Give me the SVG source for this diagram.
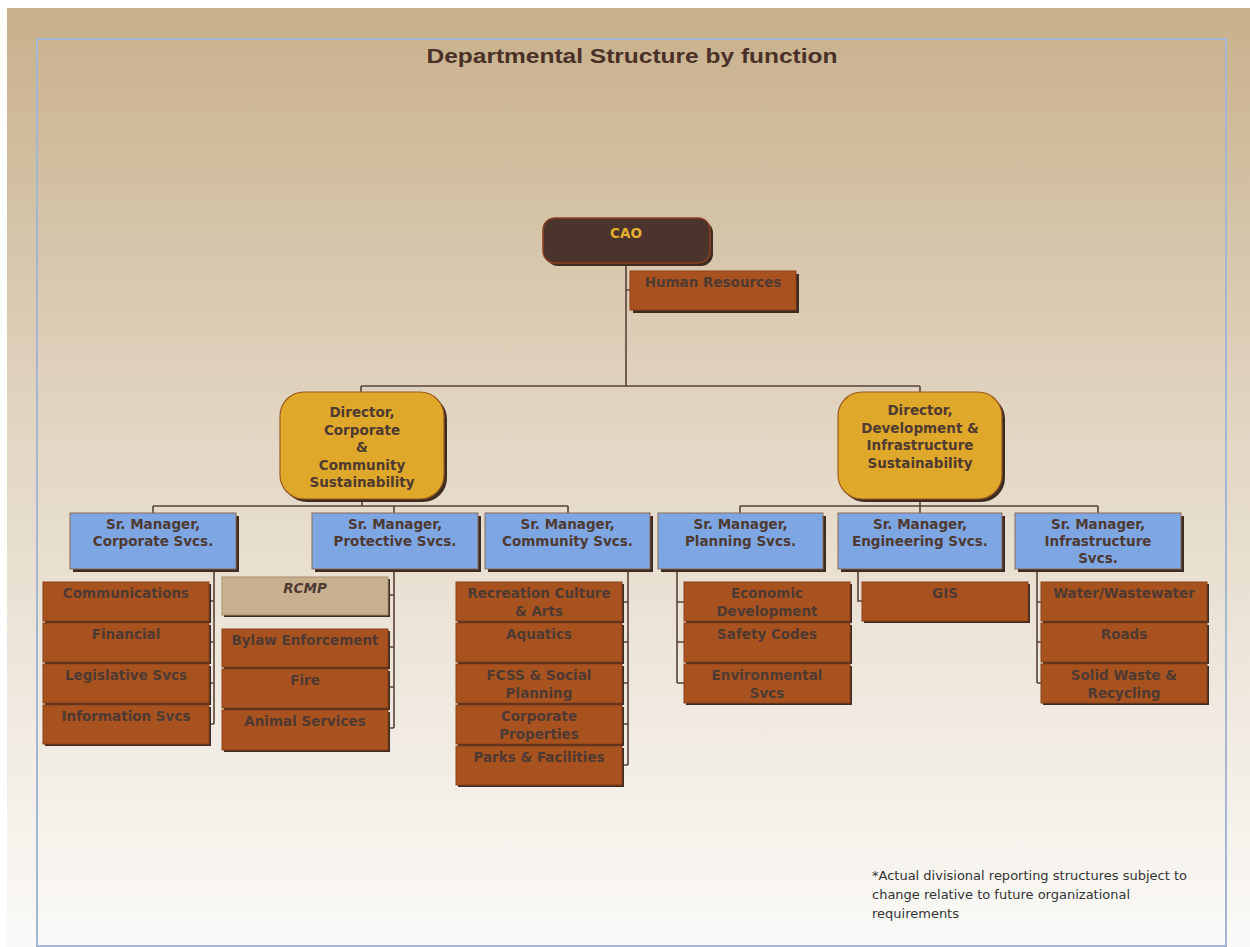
<svg xmlns="http://www.w3.org/2000/svg" width="1250" height="947" viewBox="0 0 1250 947">
<defs>
<linearGradient id="bg" x1="0" y1="0" x2="0" y2="1">
<stop offset="0" stop-color="#c8b08b"/>
<stop offset="0.45" stop-color="#e2d6c3"/>
<stop offset="1" stop-color="#fbfaf8"/>
</linearGradient>
<style>
.sh{fill:#3e2b22}
.leaf{fill:#a8521f;stroke:#8a4119;stroke-width:1}
.rcmp{fill:#c8b08e;stroke:#a89070;stroke-width:1}
.mgr{fill:#7ea6e2;stroke:#8a6a58;stroke-width:1}
.dir{fill:#e0a82a;stroke:#9a5a1e;stroke-width:1.2}
.cao{fill:#4a342c;stroke:#8a4020;stroke-width:1.5}
.t{font-family:"DejaVu Sans",Verdana,sans-serif;font-weight:bold;font-size:13.5px;fill:#4e3a32;text-anchor:middle}
.tc{font-family:"DejaVu Sans",Verdana,sans-serif;font-weight:bold;font-size:13.5px;fill:#e8b030;text-anchor:middle}
.ti{font-style:italic}
.ln{fill:none;stroke:#5a4238;stroke-width:1.6}
.note{font-family:"DejaVu Sans",Verdana,sans-serif;font-size:13px;fill:#333}
</style>
</defs>
<rect x="0" y="0" width="1250" height="947" fill="#ffffff"/>
<rect x="7" y="8" width="1243" height="939" fill="url(#bg)"/>
<rect x="37" y="39" width="1189" height="907" fill="none" stroke="#a3b6d4" stroke-width="2"/>
<text x="632" y="63" font-family="Liberation Sans,Arial,sans-serif" font-weight="bold" font-size="20" fill="#4a3028" text-anchor="middle" textLength="411" lengthAdjust="spacingAndGlyphs">Departmental Structure by function</text>

<g id="connectors">
<path class="ln" d="M626 264V386M626 290H630M361 386H920M361 386V392M920 386V392"/>
<path class="ln" d="M362 499V506M153 506H568M153 506V513M394 506V513M568 506V513"/>
<path class="ln" d="M920 499V506M740 506H1098M740 506V513M920 506V513M1098 506V513"/>
<path class="ln" d="M214 569V724M209 601H214M209 642H214M209 683H214M209 724H214"/>
<path class="ln" d="M394 569V728M388 595H394M388 647H394M388 687H394M388 728H394"/>
<path class="ln" d="M628 569V765M622 602H628M622 642H628M622 683H628M622 724H628M622 765H628"/>
<path class="ln" d="M677 569V683M677 602H684M677 642H684M677 683H684"/>
<path class="ln" d="M858 569V601H862"/>
<path class="ln" d="M1037 569V683M1037 602H1041M1037 642H1041M1037 683H1041"/>
</g>

<g id="cao"><rect class="sh" x="546" y="221" width="167" height="45" rx="12"/><rect class="cao" x="543" y="218" width="167" height="45" rx="12"/><text class="tc" x="626" y="238">CAO</text></g>
<g id="hr"><rect class="sh" x="633" y="274" width="166" height="39"/><rect class="leaf" x="630" y="271" width="166" height="39"/><text class="t" x="713" y="287">Human Resources</text></g>

<g id="dir-ccs"><rect class="sh" x="283" y="395" width="164" height="107" rx="24"/><rect class="dir" x="280" y="392" width="164" height="107" rx="24"/>
<text class="t" x="362" y="417">Director,</text><text class="t" x="362" y="434.5">Corporate</text><text class="t" x="362" y="452">&amp;</text><text class="t" x="362" y="469.5">Community</text><text class="t" x="362" y="487">Sustainability</text></g>
<g id="dir-dis"><rect class="sh" x="841" y="395" width="164" height="107" rx="24"/><rect class="dir" x="838" y="392" width="164" height="107" rx="24"/>
<text class="t" x="920" y="415">Director,</text><text class="t" x="920" y="432.5">Development &amp;</text><text class="t" x="920" y="450">Infrastructure</text><text class="t" x="920" y="467.5">Sustainability</text></g>

<g id="mgr-corp"><rect class="sh" x="73" y="516" width="166" height="56"/><rect class="mgr" x="70" y="513" width="166" height="56"/><text class="t" x="153" y="529">Sr. Manager,</text><text class="t" x="153" y="546">Corporate Svcs.</text></g>
<g id="mgr-prot"><rect class="sh" x="315" y="516" width="166" height="56"/><rect class="mgr" x="312" y="513" width="166" height="56"/><text class="t" x="395" y="529">Sr. Manager,</text><text class="t" x="395" y="546">Protective Svcs.</text></g>
<g id="mgr-comm"><rect class="sh" x="488" y="516" width="165" height="56"/><rect class="mgr" x="485" y="513" width="165" height="56"/><text class="t" x="567.5" y="529">Sr. Manager,</text><text class="t" x="567.5" y="546">Community Svcs.</text></g>
<g id="mgr-plan"><rect class="sh" x="661" y="516" width="165" height="56"/><rect class="mgr" x="658" y="513" width="165" height="56"/><text class="t" x="740.5" y="529">Sr. Manager,</text><text class="t" x="740.5" y="546">Planning Svcs.</text></g>
<g id="mgr-eng"><rect class="sh" x="841" y="516" width="164" height="56"/><rect class="mgr" x="838" y="513" width="164" height="56"/><text class="t" x="920" y="529">Sr. Manager,</text><text class="t" x="920" y="546">Engineering Svcs.</text></g>
<g id="mgr-infra"><rect class="sh" x="1018" y="516" width="166" height="56"/><rect class="mgr" x="1015" y="513" width="166" height="56"/><text class="t" x="1098" y="529">Sr. Manager,</text><text class="t" x="1098" y="546">Infrastructure</text><text class="t" x="1098" y="563">Svcs.</text></g>

<g id="communications"><rect class="sh" x="45" y="584" width="166" height="39"/><rect class="leaf" x="43" y="582" width="166" height="39"/><text class="t" x="126" y="598">Communications</text></g>
<g id="financial"><rect class="sh" x="45" y="625" width="166" height="39"/><rect class="leaf" x="43" y="623" width="166" height="39"/><text class="t" x="126" y="639">Financial</text></g>
<g id="legislative"><rect class="sh" x="45" y="666" width="166" height="39"/><rect class="leaf" x="43" y="664" width="166" height="39"/><text class="t" x="126" y="680">Legislative Svcs</text></g>
<g id="information"><rect class="sh" x="45" y="707" width="166" height="39"/><rect class="leaf" x="43" y="705" width="166" height="39"/><text class="t" x="126" y="721">Information Svcs</text></g>

<g id="rcmp"><rect class="sh" x="224" y="579" width="166" height="38"/><rect class="rcmp" x="222" y="577" width="166" height="38"/><text class="t ti" x="305" y="593">RCMP</text></g>
<g id="bylaw"><rect class="sh" x="224" y="631" width="166" height="38"/><rect class="leaf" x="222" y="629" width="166" height="38"/><text class="t" x="305" y="645">Bylaw Enforcement</text></g>
<g id="fire"><rect class="sh" x="224" y="671" width="166" height="39"/><rect class="leaf" x="222" y="669" width="166" height="39"/><text class="t" x="305" y="685">Fire</text></g>
<g id="animal"><rect class="sh" x="224" y="712" width="166" height="40"/><rect class="leaf" x="222" y="710" width="166" height="40"/><text class="t" x="305" y="726">Animal Services</text></g>

<g id="recreation"><rect class="sh" x="458" y="584" width="166" height="39"/><rect class="leaf" x="456" y="582" width="166" height="39"/><text class="t" x="539" y="598">Recreation Culture</text><text class="t" x="539" y="615.5">&amp; Arts</text></g>
<g id="aquatics"><rect class="sh" x="458" y="625" width="166" height="39"/><rect class="leaf" x="456" y="623" width="166" height="39"/><text class="t" x="539" y="639">Aquatics</text></g>
<g id="fcss"><rect class="sh" x="458" y="666" width="166" height="39"/><rect class="leaf" x="456" y="664" width="166" height="39"/><text class="t" x="539" y="680">FCSS &amp; Social</text><text class="t" x="539" y="697.5">Planning</text></g>
<g id="corpprop"><rect class="sh" x="458" y="707" width="166" height="39"/><rect class="leaf" x="456" y="705" width="166" height="39"/><text class="t" x="539" y="721">Corporate</text><text class="t" x="539" y="738.5">Properties</text></g>
<g id="parks"><rect class="sh" x="458" y="748" width="166" height="39"/><rect class="leaf" x="456" y="746" width="166" height="39"/><text class="t" x="539" y="762">Parks &amp; Facilities</text></g>

<g id="econdev"><rect class="sh" x="686" y="584" width="166" height="39"/><rect class="leaf" x="684" y="582" width="166" height="39"/><text class="t" x="767" y="598">Economic</text><text class="t" x="767" y="615.5">Development</text></g>
<g id="safety"><rect class="sh" x="686" y="625" width="166" height="39"/><rect class="leaf" x="684" y="623" width="166" height="39"/><text class="t" x="767" y="639">Safety Codes</text></g>
<g id="environmental"><rect class="sh" x="686" y="666" width="166" height="39"/><rect class="leaf" x="684" y="664" width="166" height="39"/><text class="t" x="767" y="680">Environmental</text><text class="t" x="767" y="697.5">Svcs</text></g>

<g id="gis"><rect class="sh" x="864" y="584" width="166" height="39"/><rect class="leaf" x="862" y="582" width="166" height="39"/><text class="t" x="945" y="598">GIS</text></g>

<g id="water"><rect class="sh" x="1043" y="584" width="166" height="39"/><rect class="leaf" x="1041" y="582" width="166" height="39"/><text class="t" x="1124" y="598">Water/Wastewater</text></g>
<g id="roads"><rect class="sh" x="1043" y="625" width="166" height="39"/><rect class="leaf" x="1041" y="623" width="166" height="39"/><text class="t" x="1124" y="639">Roads</text></g>
<g id="solidwaste"><rect class="sh" x="1043" y="666" width="166" height="39"/><rect class="leaf" x="1041" y="664" width="166" height="39"/><text class="t" x="1124" y="680">Solid Waste &amp;</text><text class="t" x="1124" y="697.5">Recycling</text></g>

<g id="footnote">
<text class="note" x="872" y="880">*Actual divisional reporting structures subject to</text>
<text class="note" x="872" y="899">change relative to future organizational</text>
<text class="note" x="872" y="918">requirements</text>
</g>
</svg>
